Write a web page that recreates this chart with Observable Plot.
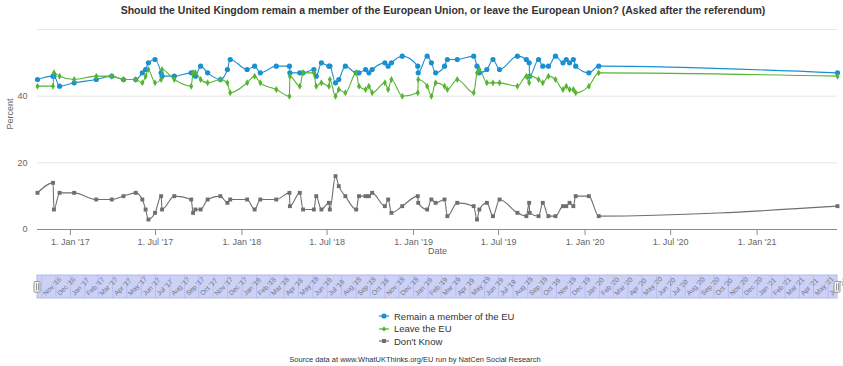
<!DOCTYPE html>
<html><head><meta charset="utf-8">
<script src="https://cdn.jsdelivr.net/npm/d3@7"></script>
<script src="https://cdn.jsdelivr.net/npm/@observablehq/plot@0.6"></script>
<style>
body{margin:0;background:#fff;font-family:"Liberation Sans",Arial,sans-serif;}
#wrap{position:relative;width:843px;height:366px;overflow:hidden;background:#fff;}
#title{position:absolute;top:4px;left:443px;transform:translateX(-50%);white-space:nowrap;font-weight:bold;font-size:10.5px;color:#333;}
#main{position:absolute;top:0;left:0;}
#nav{position:absolute;top:262px;left:0;}
.leg{position:absolute;left:379px;height:12px;display:flex;align-items:center;font-size:9.5px;color:#333;white-space:nowrap;}
.leg svg{margin-right:5px;}
#source{position:absolute;top:355px;left:415px;transform:translateX(-50%);white-space:nowrap;font-size:7.5px;color:#333;}
</style></head><body>
<div id="wrap">
  <div id="main"></div>
  <div id="nav"></div>
  <div id="title"></div>
  <div id="legend"></div>
  <div id="source">Source data at www.WhatUKThinks.org/EU run by NatCen Social Research</div>
</div>
<script>
const titleText = "Should the United Kingdom remain a member of the European Union, or leave the European Union? (Asked after the referendum)";
const seriesNames = ["Remain a member of the EU", "Leave the EU", "Don't Know"];
const seriesColors = ["#1a90d2", "#55b431", "#6f6f6f"];
const dates = ["2016-10-23","2016-11-25","2016-11-27","2016-12-09","2017-01-09","2017-02-25","2017-03-30","2017-04-24","2017-05-20","2017-06-03",
"2017-06-10","2017-06-16","2017-06-30","2017-07-13","2017-07-15","2017-08-10","2017-09-15","2017-09-19","2017-09-24","2017-10-05",
"2017-10-20","2017-11-16","2017-12-01","2017-12-07","2018-01-12","2018-01-28","2018-02-09","2018-03-15","2018-04-12","2018-04-13",
"2018-05-04","2018-05-11","2018-06-03","2018-06-08","2018-06-19","2018-07-05","2018-07-07","2018-07-19","2018-07-26","2018-08-09",
"2018-09-01","2018-09-07","2018-09-21","2018-09-28","2018-10-05","2018-11-01","2018-11-08","2018-11-15","2018-12-08","2019-01-10",
"2019-01-11","2019-01-30","2019-02-08","2019-02-17","2019-03-08","2019-03-14","2019-04-04","2019-05-09","2019-05-16","2019-05-21",
"2019-06-06","2019-06-19","2019-07-03","2019-08-10","2019-08-29","2019-09-04","2019-09-05","2019-09-24","2019-10-03","2019-10-15",
"2019-10-30","2019-11-15","2019-11-22","2019-11-29","2019-12-07","2019-12-12","2020-01-09","2020-01-30","2021-06-21"];
const remain = [45,46,46,43,44,45,46,45,45,47, 48,50,51,47,46,46,47,47,46,49, 47,45,48,51,48,49,47,49,49,47,
47,47,48,46,50,49,49,44,45,49, 47,47,48,47,48,50,49,50,52,49, 47,52,50,47,49,51,51,52,49,47,
48,51,48,52,51,50,46,51,49,49, 52,50,51,50,51,49,47,49,47];
const leave = [43,43,47,46,45,46,46,45,45,44, 46,48,44,45,48,45,43,47,47,45, 44,45,44,41,44,46,44,42,40,46,
43,47,47,43,44,43,45,40,42,41, 47,43,42,43,41,44,42,45,40,41, 45,43,40,44,43,42,45,41,47,48,
44,44,44,43,46,44,46,45,44,46, 45,42,43,42,42,41,43,47,46];
const dontKnow = [11,14,6,11,11,9,9,10,11,9, 6,3,5,10,6,10,9,5,6,6, 9,10,8,9,9,6,9,9,11,7,
11,6,6,10,6,8,6,16,13,10, 6,10,10,10,11,7,9,5,7,10, 8,6,9,8,9,4,8,7,3,6,
8,4,9,5,4,8,5,4,8,4, 4,7,7,8,7,10,10,4,7];
const xTickLabels = ["2017-01-01","2017-07-01","2018-01-01","2018-07-01","2019-01-01","2019-07-01","2020-01-01","2020-07-01","2021-01-01"];
const yTicks = [0, 20, 40, 60];

document.getElementById("title").textContent = titleText;

const parse = d3.utcParse("%Y-%m-%d");
const D = dates.map(parse);
const mk = (vals, k) => vals.map((v, i) => ({date: D[i], value: v, series: seriesNames[k]}));
const R = mk(remain, 0), L = mk(leave, 1), K = mk(dontKnow, 2);
const xDomain = d3.extent(D);
const xTicks = xTickLabels.map(parse);
const curve = "monotone-x";

const main = Plot.plot({
  width: 843, height: 262,
  marginTop: 29, marginBottom: 33, marginLeft: 37, marginRight: 6,
  style: {fontFamily: "Liberation Sans, Arial, sans-serif", fontSize: "9px", color: "#666", background: "transparent", overflow: "visible"},
  x: {type: "utc", domain: xDomain},
  y: {domain: [0, 60]},
  marks: [
    Plot.ruleY(yTicks.slice(1), {stroke: "#e6e6e6"}),
    Plot.axisY(yTicks, {tickSize: 0, tickPadding: 10, tickFormat: d => d === 60 ? "" : String(d), label: null, fill: "#666"}),
    Plot.axisX(xTicks, {tickSize: 6, tickPadding: 3, stroke: "#8c8c8c", tickFormat: d3.utcFormat("1. %b '%y"), label: null, fill: "#666"}),
    Plot.ruleY([0], {stroke: "#8c8c8c"}),
    Plot.text(["Percent"], {frameAnchor: "left", dx: -27, rotate: -90, fill: "#666", fontSize: 9}),
    Plot.text(["Date"], {frameAnchor: "bottom", dy: 24, fill: "#666", fontSize: 9}),
    Plot.line(R, {x: "date", y: "value", stroke: seriesColors[0], strokeWidth: 1.1, curve}),
    Plot.dot(R, {x: "date", y: "value", fill: seriesColors[0], r: 2.6, symbol: "circle"}),
    Plot.line(L, {x: "date", y: "value", stroke: seriesColors[1], strokeWidth: 1.1, curve}),
    Plot.dot(L, {x: "date", y: "value", fill: seriesColors[1], r: 2.1, symbol: "diamond"}),
    Plot.line(K, {x: "date", y: "value", stroke: seriesColors[2], strokeWidth: 1.1, curve}),
    Plot.dot(K, {x: "date", y: "value", fill: seriesColors[2], r: 2.2, symbol: "square"})
  ]
});
document.getElementById("main").appendChild(main);

const months = d3.utcMonth.range(xDomain[0], xDomain[1]);
const nav = Plot.plot({
  width: 843, height: 40,
  marginTop: 13, marginBottom: 4, marginLeft: 37, marginRight: 6,
  style: {fontFamily: "Liberation Sans, Arial, sans-serif", fontSize: "7px", color: "#666", background: "transparent", overflow: "visible"},
  x: {type: "utc", domain: xDomain, axis: null},
  y: {domain: [0, 1], axis: null},
  marks: [
    Plot.rect([xDomain], {x1: d => d[0], x2: d => d[1], y1: 0, y2: 1, fill: "#ccd1f6", stroke: "#b4bae9"}),
    Plot.ruleX(months, {y1: 0, y2: 1, stroke: "#b8bdec"}),
    Plot.text(months, {x: d => d, y: 0, dx: 2.5, dy: -4, rotate: -45, textAnchor: "start", text: d3.utcFormat("%b '%y"), fill: "#77778a", fontSize: 6.8}),
    Plot.rect(xDomain, {x1: d => d, x2: d => d, y1: 0.25, y2: 0.72, insetLeft: -3, insetRight: -3, fill: "#f2f2f2", stroke: "#999", rx: 1}),
    Plot.ruleX(xDomain, {y1: 0.33, y2: 0.64, dx: -1, stroke: "#999"}),
    Plot.ruleX(xDomain, {y1: 0.33, y2: 0.64, dx: 1, stroke: "#999"})
  ]
});
document.getElementById("nav").appendChild(nav);

const legend = document.getElementById("legend");
const rowsY = [310, 322.5, 335];
seriesNames.forEach((name, k) => {
  const div = document.createElement("div");
  div.className = "leg";
  div.style.top = rowsY[k] + "px";
  const c = seriesColors[k];
  let marker;
  if (k === 0) marker = `<circle cx="5" cy="5" r="2.6" fill="${c}"/>`;
  else if (k === 1) marker = `<path d="M5 2.6 L7.4 5 L5 7.4 L2.6 5 Z" fill="${c}"/>`;
  else marker = `<rect x="3" y="3" width="4" height="4" fill="${c}"/>`;
  div.innerHTML = `<svg width="10" height="10" overflow="visible"><line x1="0" y1="5" x2="10" y2="5" stroke="${c}" stroke-width="1.2"/>${marker}</svg>`;
  const span = document.createElement("span");
  span.textContent = name;
  div.appendChild(span);
  legend.appendChild(div);
});
</script>
</body></html>
